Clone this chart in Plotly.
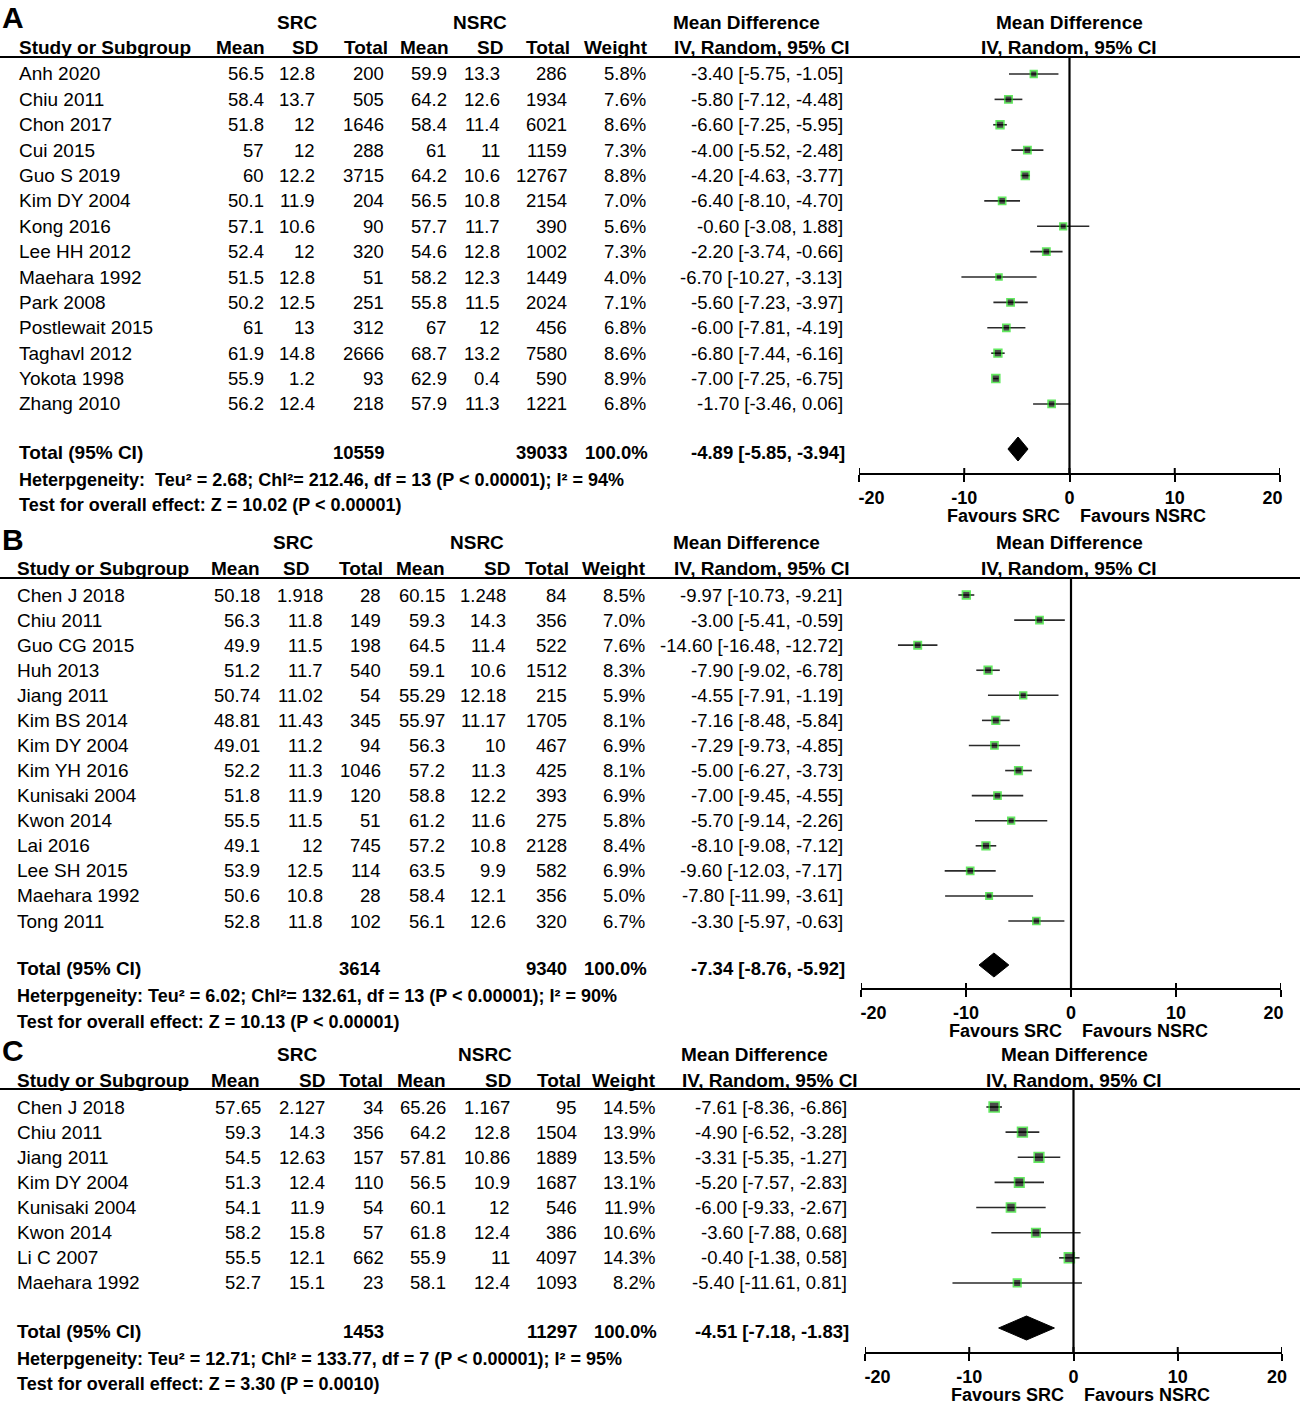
import plotly.graph_objects as go

# ---------------- data ----------------
names_A = ["Anh 2020", "Chiu 2011", "Chon 2017", "Cui 2015", "Guo S 2019", "Kim DY 2004", "Kong 2016",
           "Lee HH 2012", "Maehara 1992", "Park 2008", "Postlewait 2015", "Taghavl 2012", "Yokota 1998", "Zhang 2010"]
src_mean_A = [56.5, 58.4, 51.8, 57, 60, 50.1, 57.1, 52.4, 51.5, 50.2, 61, 61.9, 55.9, 56.2]
src_sd_A = [12.8, 13.7, 12, 12, 12.2, 11.9, 10.6, 12, 12.8, 12.5, 13, 14.8, 1.2, 12.4]
src_n_A = [200, 505, 1646, 288, 3715, 204, 90, 320, 51, 251, 312, 2666, 93, 218]
nsrc_mean_A = [59.9, 64.2, 58.4, 61, 64.2, 56.5, 57.7, 54.6, 58.2, 55.8, 67, 68.7, 62.9, 57.9]
nsrc_sd_A = [13.3, 12.6, 11.4, 11, 10.6, 10.8, 11.7, 12.8, 12.3, 11.5, 12, 13.2, 0.4, 11.3]
nsrc_n_A = [286, 1934, 6021, 1159, 12767, 2154, 390, 1002, 1449, 2024, 456, 7580, 590, 1221]
weight_A = [5.8, 7.6, 8.6, 7.3, 8.8, 7.0, 5.6, 7.3, 4.0, 7.1, 6.8, 8.6, 8.9, 6.8]
md_A = [-3.40, -5.80, -6.60, -4.00, -4.20, -6.40, -0.60, -2.20, -6.70, -5.60, -6.00, -6.80, -7.00, -1.70]
lo_A = [-5.75, -7.12, -7.25, -5.52, -4.63, -8.10, -3.08, -3.74, -10.27, -7.23, -7.81, -7.44, -7.25, -3.46]
hi_A = [-1.05, -4.48, -5.95, -2.48, -3.77, -4.70, 1.88, -0.66, -3.13, -3.97, -4.19, -6.16, -6.75, 0.06]
total_A = [10559, 39033, -4.89, -5.85, -3.94]
het_A = "Heterpgeneity:  Teu² = 2.68; Chl²= 212.46, df = 13 (P < 0.00001); I² = 94%"
test_A = "Test for overall effect: Z = 10.02 (P < 0.00001)"

names_B = ["Chen J 2018", "Chiu 2011", "Guo CG 2015", "Huh 2013", "Jiang 2011", "Kim BS 2014", "Kim DY 2004",
           "Kim YH 2016", "Kunisaki 2004", "Kwon 2014", "Lai 2016", "Lee SH 2015", "Maehara 1992", "Tong 2011"]
src_mean_B = [50.18, 56.3, 49.9, 51.2, 50.74, 48.81, 49.01, 52.2, 51.8, 55.5, 49.1, 53.9, 50.6, 52.8]
src_sd_B = [1.918, 11.8, 11.5, 11.7, 11.02, 11.43, 11.2, 11.3, 11.9, 11.5, 12, 12.5, 10.8, 11.8]
src_n_B = [28, 149, 198, 540, 54, 345, 94, 1046, 120, 51, 745, 114, 28, 102]
nsrc_mean_B = [60.15, 59.3, 64.5, 59.1, 55.29, 55.97, 56.3, 57.2, 58.8, 61.2, 57.2, 63.5, 58.4, 56.1]
nsrc_sd_B = [1.248, 14.3, 11.4, 10.6, 12.18, 11.17, 10, 11.3, 12.2, 11.6, 10.8, 9.9, 12.1, 12.6]
nsrc_n_B = [84, 356, 522, 1512, 215, 1705, 467, 425, 393, 275, 2128, 582, 356, 320]
weight_B = [8.5, 7.0, 7.6, 8.3, 5.9, 8.1, 6.9, 8.1, 6.9, 5.8, 8.4, 6.9, 5.0, 6.7]
md_B = [-9.97, -3.00, -14.60, -7.90, -4.55, -7.16, -7.29, -5.00, -7.00, -5.70, -8.10, -9.60, -7.80, -3.30]
lo_B = [-10.73, -5.41, -16.48, -9.02, -7.91, -8.48, -9.73, -6.27, -9.45, -9.14, -9.08, -12.03, -11.99, -5.97]
hi_B = [-9.21, -0.59, -12.72, -6.78, -1.19, -5.84, -4.85, -3.73, -4.55, -2.26, -7.12, -7.17, -3.61, -0.63]
total_B = [3614, 9340, -7.34, -8.76, -5.92]
het_B = "Heterpgeneity: Teu² = 6.02; Chl²= 132.61, df = 13 (P < 0.00001); I² = 90%"
test_B = "Test for overall effect: Z = 10.13 (P < 0.00001)"

names_C = ["Chen J 2018", "Chiu 2011", "Jiang 2011", "Kim DY 2004", "Kunisaki 2004", "Kwon 2014", "Li C 2007", "Maehara 1992"]
src_mean_C = [57.65, 59.3, 54.5, 51.3, 54.1, 58.2, 55.5, 52.7]
src_sd_C = [2.127, 14.3, 12.63, 12.4, 11.9, 15.8, 12.1, 15.1]
src_n_C = [34, 356, 157, 110, 54, 57, 662, 23]
nsrc_mean_C = [65.26, 64.2, 57.81, 56.5, 60.1, 61.8, 55.9, 58.1]
nsrc_sd_C = [1.167, 12.8, 10.86, 10.9, 12, 12.4, 11, 12.4]
nsrc_n_C = [95, 1504, 1889, 1687, 546, 386, 4097, 1093]
weight_C = [14.5, 13.9, 13.5, 13.1, 11.9, 10.6, 14.3, 8.2]
md_C = [-7.61, -4.90, -3.31, -5.20, -6.00, -3.60, -0.40, -5.40]
lo_C = [-8.36, -6.52, -5.35, -7.57, -9.33, -7.88, -1.38, -11.61]
hi_C = [-6.86, -3.28, -1.27, -2.83, -2.67, 0.68, 0.58, 0.81]
total_C = [1453, 11297, -4.51, -7.18, -1.83]
het_C = "Heterpgeneity: Teu² = 12.71; Chl² = 133.77, df = 7 (P < 0.00001); I² = 95%"
test_C = "Test for overall effect: Z = 3.30 (P = 0.0010)"

tick_vals = [-20, -10, 0, 10, 20]
tick_text = ["-20", "-10", "0", "10", "20"]
panel_letters = ["A", "B", "C"]

# ---------------- layout geometry (pixels) ----------------
W, H = 1300, 1404
FONT = "Liberation Sans, Arial, sans-serif"
FS = 18.5      # numbers
FS_LBL = 19    # names and headers
FS_SMALL = 18  # footnotes, axis
NBSP = "\u00a0"

panels = [
    dict(letter=panel_letters[0], names=names_A, sm=src_mean_A, ssd=src_sd_A, sn=src_n_A, nm=nsrc_mean_A,
         nsd=nsrc_sd_A, nn=nsrc_n_A, w=weight_A, md=md_A, lo=lo_A, hi=hi_A, tot=total_A, het=het_A, test=test_A,
         y_title=22, y_head=47, y_line=57, row0=74, step=25.38, y_total=452, y_het=480, y_test=505, y_axis=473,
         ax0=859, ax1=1280, name_x=17, pad_l=5, pad_r=3,
         data_cols=[266, 317, 386, 449, 502, 569, 648, 845],
         head_cols=[267, 320, 390, 451, 505, 572, 650],
         src_c=297, nsrc_c=480, md_c=746, ci_head_c=762, md2_c=1069, fav1=1003, fav2=1143),
    dict(letter=panel_letters[1], names=names_B, sm=src_mean_B, ssd=src_sd_B, sn=src_n_B, nm=nsrc_mean_B,
         nsd=nsrc_sd_B, nn=nsrc_n_B, w=weight_B, md=md_B, lo=lo_B, hi=hi_B, tot=total_B, het=het_B, test=test_B,
         y_title=543, y_head=568, y_line=578, row0=595, step=25.08, y_total=968, y_het=996, y_test=1022, y_axis=988,
         ax0=861, ax1=1281, name_x=15, pad_l=5, pad_r=3,
         data_cols=[262, 325, 383, 447, 508, 569, 647, 845],
         head_cols=[262, 311, 385, 447, 512, 571, 648],
         src_c=293, nsrc_c=477, md_c=746, ci_head_c=762, md2_c=1069, fav1=1005, fav2=1145),
    dict(letter=panel_letters[2], names=names_C, sm=src_mean_C, ssd=src_sd_C, sn=src_n_C, nm=nsrc_mean_C,
         nsd=nsrc_sd_C, nn=nsrc_n_C, w=weight_C, md=md_C, lo=lo_C, hi=hi_C, tot=total_C, het=het_C, test=test_C,
         y_title=1054, y_head=1080, y_line=1089, row0=1107, step=25.14, y_total=1331, y_het=1359, y_test=1384, y_axis=1352,
         ax0=865, ax1=1282, name_x=15, pad_l=5, pad_r=2,
         data_cols=[263, 327, 386, 448, 512, 579, 657, 849],
         head_cols=[262, 327, 385, 448, 513, 583, 658],
         src_c=297, nsrc_c=485, md_c=754, ci_head_c=770, md2_c=1074, fav1=1007, fav2=1147),
]


def fy(p):
    return 1 - p / H


def fx(p):
    return p / W


def num(v):
    return f"{v:g}"


annotations = []
shapes = []


def text(t, x, y, anchor="right", bold=False, size=FS):
    annotations.append(dict(
        text=f"<b>{t}</b>" if bold else t, x=fx(x), y=fy(y), xref="paper", yref="paper",
        xanchor=anchor, yanchor="middle", showarrow=False,
        font=dict(family=FONT, size=size, color="black")))


fig = go.Figure()
layout_axes = {}

for k, p in enumerate(panels):
    i = k + 1
    xa = "x" if i == 1 else f"x{i}"
    ya = "y" if i == 1 else f"y{i}"
    rows_y = [p["row0"] + j * p["step"] for j in range(len(p["names"]))]

    # --- headers ---
    text(p["letter"], 0, p["y_title"] - 4, anchor="left", bold=True, size=30)
    text("SRC", p["src_c"], p["y_title"], anchor="center", bold=True, size=FS_LBL)
    text("NSRC", p["nsrc_c"], p["y_title"], anchor="center", bold=True, size=FS_LBL)
    text("Mean Difference", p["md_c"], p["y_title"], anchor="center", bold=True, size=FS_LBL)
    text("Mean Difference", p["md2_c"], p["y_title"], anchor="center", bold=True, size=FS_LBL)
    text("Study or Subgroup", p["name_x"], p["y_head"], anchor="left", bold=True, size=FS_LBL)
    for lab, xr in zip(["Mean", "SD", "Total", "Mean", "SD", "Total", "Weight"], p["head_cols"]):
        text(lab, xr, p["y_head"], bold=True, size=FS_LBL)
    text("IV, Random, 95% CI", p["ci_head_c"], p["y_head"], anchor="center", bold=True, size=FS_LBL)
    text("IV, Random, 95% CI", p["md2_c"], p["y_head"], anchor="center", bold=True, size=FS_LBL)
    shapes.append(dict(type="line", xref="paper", yref="paper", x0=0, x1=1,
                       y0=fy(p["y_line"]), y1=fy(p["y_line"]), line=dict(color="black", width=2)))

    # --- rows ---
    c = p["data_cols"]
    for j, y in enumerate(rows_y):
        text(p["names"][j], p["name_x"], y, anchor="left", size=FS_LBL)
        text(num(p["sm"][j]), c[0], y)
        text(num(p["ssd"][j]), c[1], y)
        text(num(p["sn"][j]), c[2], y)
        text(num(p["nm"][j]), c[3], y)
        text(num(p["nsd"][j]), c[4], y)
        text(num(p["nn"][j]), c[5], y)
        text(f"{p['w'][j]:.1f}%", c[6], y)
        text(f"{p['md'][j]:.2f} [{p['lo'][j]:.2f}, {p['hi'][j]:.2f}]", c[7], y)

    # --- totals ---
    tot = p["tot"]
    text("Total (95% CI)", p["name_x"], p["y_total"], anchor="left", bold=True, size=FS_LBL)
    text(num(tot[0]), c[2], p["y_total"], bold=True)
    text(num(tot[1]), c[5], p["y_total"], bold=True)
    text("100.0%", c[6] + 2, p["y_total"], bold=True)
    text(f"{tot[2]:.2f} [{tot[3]:.2f}, {tot[4]:.2f}]", c[7] + 2, p["y_total"], bold=True)
    text(p["het"], p["name_x"], p["y_het"], anchor="left", bold=True, size=FS_SMALL)
    text(p["test"], p["name_x"], p["y_test"], anchor="left", bold=True, size=FS_SMALL)
    text("Favours SRC", p["fav1"], p["y_axis"] + 43, anchor="center", bold=True, size=FS_SMALL)
    text("Favours NSRC", p["fav2"], p["y_axis"] + 43, anchor="center", bold=True, size=FS_SMALL)

    # --- forest marks ---
    fig.add_trace(go.Scatter(
        x=p["md"], y=rows_y, xaxis=xa, yaxis=ya, mode="markers", showlegend=False,
        marker=dict(symbol="square", size=[4.5 + 0.38 * w for w in p["w"]], color="black",
                    line=dict(color="#22e01e", width=1.6)),
        error_x=dict(type="data", symmetric=False,
                     array=[h - m for h, m in zip(p["hi"], p["md"])],
                     arrayminus=[m - l for m, l in zip(p["md"], p["lo"])],
                     color="#2a2a2a", thickness=1.6, width=0),
        cliponaxis=False,
    ))
    half = 12
    yt = p["y_total"] - 3
    fig.add_trace(go.Scatter(
        x=[tot[3], tot[2], tot[4], tot[2], tot[3]],
        y=[yt, yt - half, yt, yt + half, yt],
        xaxis=xa, yaxis=ya, mode="lines", fill="toself", fillcolor="black",
        line=dict(color="black", width=1), showlegend=False, cliponaxis=False,
    ))
    shapes.append(dict(type="line", xref=xa, yref=f"{ya} domain", x0=0, x1=0, y0=0, y1=1,
                       line=dict(color="black", width=2.2)))
    # upper half of the crossing tick marks
    for tv in tick_vals:
        shapes.append(dict(type="line", xref=xa, yref=ya, x0=tv, x1=tv,
                           y0=p["y_axis"], y1=p["y_axis"] - 5, line=dict(color="black", width=2)))

    # end labels are nudged inward, as in the original figure
    ttext = list(tick_text)
    ttext[0] = NBSP * p["pad_l"] + ttext[0]
    ttext[-1] = ttext[-1] + NBSP * p["pad_r"]

    kx = "xaxis" if i == 1 else f"xaxis{i}"
    ky = "yaxis" if i == 1 else f"yaxis{i}"
    layout_axes[kx] = dict(
        domain=[fx(p["ax0"]), fx(p["ax1"])], range=[-20, 20], anchor=ya, automargin=False,
        showline=True, linecolor="black", linewidth=2, mirror=False,
        ticks="outside", ticklen=7, tickwidth=2, tickcolor="black",
        tickvals=tick_vals, ticktext=ttext, showgrid=False, zeroline=False,
        ticklabeloverflow="allow",
        tickfont=dict(family=FONT, size=FS_SMALL, color="black", weight="bold"), fixedrange=True,
    )
    layout_axes[ky] = dict(
        domain=[fy(p["y_axis"]), fy(p["y_line"])], range=[p["y_axis"], p["y_line"]], automargin=False,
        anchor=xa, visible=False, showgrid=False, zeroline=False, fixedrange=True,
    )

fig.update_layout(
    width=W, height=H, autosize=False, margin=dict(l=0, r=0, t=0, b=0, pad=0, autoexpand=False),
    paper_bgcolor="white", plot_bgcolor="white",
    annotations=annotations, shapes=shapes, showlegend=False,
    font=dict(family=FONT, size=FS, color="black"),
    **layout_axes,
)

fig.write_html(
    "out.html",
    config={"displayModeBar": False, "responsive": False},
    post_script="document.body.style.margin='0';document.documentElement.style.overflow='hidden';",
)
